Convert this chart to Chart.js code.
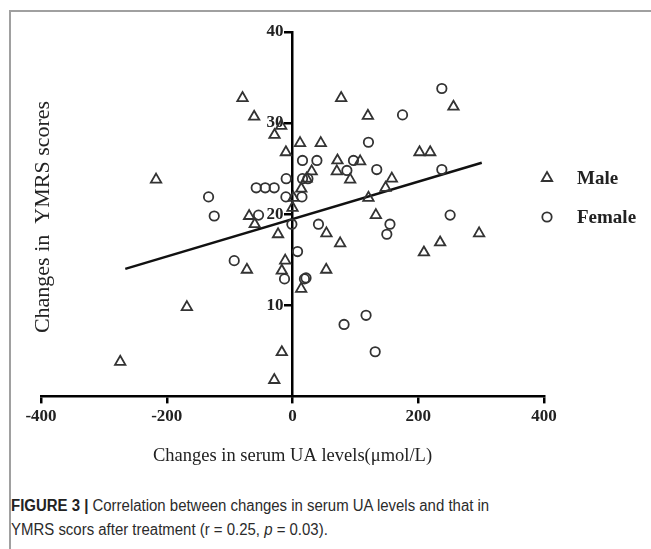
<!DOCTYPE html>
<html>
<head>
<meta charset="utf-8">
<script src="https://cdn.jsdelivr.net/npm/chart.js@4.4.1/dist/chart.umd.min.js"></script>
<style>
html,body{margin:0;padding:0;background:#fff;width:651px;height:549px;overflow:hidden}
#frame{position:absolute;left:9px;top:10px;width:650px;height:545px;border-top:2px solid #a0a0a0;border-left:2px solid #a0a0a0;box-sizing:border-box}
#wrap{position:absolute;left:0;top:0;width:651px;height:480px}
#cap{position:absolute;left:11px;top:494px;font-family:'Liberation Sans',Arial,sans-serif;font-size:16px;line-height:24px;color:#2b2b2b;white-space:nowrap;transform:scaleX(0.935);transform-origin:0 0}
#cap b{font-weight:bold;color:#222}
</style>
</head>
<body>
<div id="frame"></div>
<div id="wrap"><canvas id="c" width="651" height="480"></canvas></div>
<div id="cap"><b>FIGURE 3 |</b> Correlation between changes in serum UA levels and that in<br>YMRS scors after treatment (r = 0.25, <i>p</i> = 0.03).</div>
<script>
// ---- data ----
const maleX = [-274, -217, -168, -79.5, -72.5, -69, -61, -60, -28.6, -29, -23, -18, -17, -17, -11.6, -10.5, 0, 1.5, 12, 14, 13.8, 22.5, 30.5, 45, 54, 53.6, 71.5, 70.5, 75.8, 77.4, 91.7, 107.6, 119.9, 120.8, 132.6, 148, 158, 202, 209, 219, 234.8, 256, 296.8];
const maleY = [3.8, 23.8, 9.8, 32.75, 13.9, 19.8, 30.7, 18.9, 28.7, 1.8, 17.8, 29.7, 4.85, 13.8, 14.9, 26.8, 20.7, 21.8, 27.8, 22.8, 11.8, 23.9, 24.7, 27.8, 17.9, 13.9, 25.9, 24.7, 16.8, 32.75, 23.8, 25.8, 30.8, 21.8, 19.9, 22.9, 23.9, 26.8, 15.8, 26.8, 16.9, 31.8, 17.9];
const femaleX = [-133.5, -124.5, -92.7, -57.7, -43.4, -29.1, -54, -10, -10.5, -12.7, -1, 8, 19, 21.5, 15.9, 38.8, 15.9, 24.5, 15, 41.3, 82, 86.5, 97, 117, 120.8, 131.5, 134, 150, 155, 175, 237.5, 237.5, 250.7];
const femaleY = [21.9, 19.8, 14.9, 22.9, 22.9, 22.9, 19.9, 23.9, 21.9, 12.9, 18.9, 15.9, 12.9, 13.0, 25.9, 25.9, 23.9, 23.9, 21.9, 18.9, 7.9, 24.8, 25.9, 8.9, 27.9, 4.9, 24.9, 17.8, 18.9, 30.9, 33.8, 24.9, 19.9];
const fitX = [-266, 301];
const fitY = [14.0, 25.65];
const xTickVals = [-400, -200, 0, 200, 400];
const yTickVals = [10, 20, 30, 40];
const seriesNames = ['Male', 'Female'];
const xTitle = 'Changes in serum UA levels(\u03BCmol/L)';
const yTitle = 'Changes in  YMRS scores';

const toPts = (xs, ys) => xs.map((x, i) => ({x: x, y: ys[i]}));
const INK = '#333';
const SERIF = "'Liberation Serif','Times New Roman',serif";

const extras = {
  id: 'extras',
  beforeDraw(chart) {
    // y axis sits at x = 0: put its labels left of the tick marks
    const s = chart.scales.y;
    const items = s.getLabelItems();
    if (!items._shifted) {
      items.forEach(it => { it.options.translation[0] -= 9; });
      items._shifted = true;
    }
  },
  afterDraw(chart) {
    const ctx = chart.ctx;
    ctx.save();
    ctx.translate(43, 217);
    ctx.rotate(-Math.PI / 2);
    ctx.font = "22px " + SERIF;
    ctx.fillStyle = '#222';
    ctx.textAlign = 'center';
    ctx.textBaseline = 'middle';
    ctx.fillText(yTitle, 0, 0);
    ctx.restore();
    const items = [
      {style: 'triangle', r: 6, y: 178},
      {style: 'circle', r: 4.7, y: 217}
    ];
    ctx.save();
    items.forEach((it, i) => {
      ctx.strokeStyle = INK;
      ctx.lineWidth = 1.8;
      ctx.fillStyle = 'rgba(0,0,0,0)';
      Chart.helpers.drawPoint(ctx, {pointStyle: it.style, radius: it.r, borderWidth: 1.8, rotation: 0}, 547, it.y);
      ctx.font = "bold 19px " + SERIF;
      ctx.fillStyle = '#222';
      ctx.textAlign = 'left';
      ctx.textBaseline = 'middle';
      ctx.fillText(seriesNames[i], 577, it.y + 1);
    });
    ctx.restore();
  }
};

new Chart(document.getElementById('c'), {
  data: {
    datasets: [
      {type: 'scatter', label: seriesNames[0], data: toPts(maleX, maleY), pointStyle: 'triangle', pointRadius: 6, pointHoverRadius: 6, borderColor: INK, backgroundColor: 'rgba(0,0,0,0)', borderWidth: 1.8},
      {type: 'scatter', label: seriesNames[1], data: toPts(femaleX, femaleY), pointStyle: 'circle', pointRadius: 4.7, pointHoverRadius: 4.7, borderColor: INK, backgroundColor: 'rgba(0,0,0,0)', borderWidth: 1.8},
      {type: 'line', label: 'fit', data: toPts(fitX, fitY), borderColor: '#111', borderWidth: 2.5, pointRadius: 0, fill: false, tension: 0}
    ]
  },
  options: {
    responsive: false,
    animation: false,
    devicePixelRatio: 1,
    layout: {padding: {left: 41, right: 107, top: 32, bottom: 13}},
    plugins: {legend: {display: false}, tooltip: {enabled: false}},
    scales: {
      x: {
        type: 'linear', position: 'bottom', min: -400, max: 400,
        afterBuildTicks: (s) => { s.ticks = xTickVals.map(v => ({value: v})); },
        grid: {drawOnChartArea: false, drawTicks: true, tickLength: 7, color: '#000', lineWidth: 2.5},
        border: {display: true, color: '#000', width: 2.5},
        ticks: {padding: 3, color: '#222', font: {family: SERIF, size: 17, weight: 'bold'}, maxRotation: 0},
        title: {display: true, text: xTitle, color: '#222', font: {family: SERIF, size: 18.5}, padding: {top: 15, bottom: 0}}
      },
      y: {
        type: 'linear', position: {x: 0}, min: 0, max: 40,
        afterBuildTicks: (s) => { s.ticks = yTickVals.map(v => ({value: v})); },
        grid: {drawOnChartArea: false, drawTicks: true, tickLength: 7, color: '#000', lineWidth: 2.5},
        border: {display: true, color: '#000', width: 2.5},
        ticks: {padding: 3, color: '#222', font: {family: SERIF, size: 17, weight: 'bold'}}
      }
    }
  },
  plugins: [extras]
});
</script>
</body>
</html>
